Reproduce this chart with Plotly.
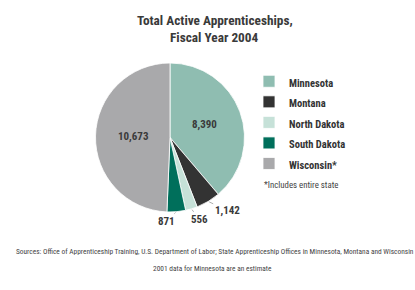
import math
import plotly.graph_objects as go

states = ["Minnesota", "Montana", "North Dakota", "South Dakota", "Wisconsin*"]
values = [8390, 1142, 556, 871, 10673]
colors = ["#8fbdb1", "#333333", "#c6e1d8", "#006f5b", "#a9a9ab"]
text_labels = ["8,390", "1,142", "556", "871", "10,673"]
label_inside = [True, False, False, False, True]
title_lines = ["Total Active Apprenticeships,", "Fiscal Year 2004"]
# pixel offsets for outside labels (style, not data)
outside_offsets = {1: (19, 9), 2: (8, 11), 3: (-10, 10)}

FONT = "Roboto Condensed, Liberation Sans Narrow, Arial Narrow, Roboto, sans-serif"
W, H = 415, 290
# pie domain in pixels
PX0, PX1, PY0, PY1 = 95, 245, 63, 212
cx, cy = (PX0 + PX1) / 2, (PY0 + PY1) / 2
R = min(PX1 - PX0, PY1 - PY0) / 2

legend_labels = ['<span style="font-size:10.5px">%s</span>' % s for s in states]

fig = go.Figure(go.Pie(
    labels=legend_labels,
    values=values,
    textinfo="none",
    sort=False,
    direction="clockwise",
    rotation=0,
    marker=dict(colors=colors, line=dict(color="#ffffff", width=0.8)),
    domain=dict(x=[PX0 / W, PX1 / W], y=[1 - PY1 / H, 1 - PY0 / H]),
    hovertext=states,
    hoverinfo="text+value",
))

annotations = []
total = sum(values)
cum = 0
for i, v in enumerate(values):
    mid = (cum + v / 2) / total * 2 * math.pi
    cum += v
    sx, sy = math.sin(mid), -math.cos(mid)
    if label_inside[i]:
        px, py = cx + 0.49 * R * sx, cy + 0.49 * R * sy
        annotations.append(dict(
            text="<b>%s</b>" % text_labels[i], x=px / W, y=1 - py / H,
            xref="paper", yref="paper", xanchor="center", yanchor="middle",
            showarrow=False,
            font=dict(family=FONT, size=11, color="#3a3a3a")))
    else:
        ex, ey = cx + R * sx, cy + R * sy
        ox, oy = outside_offsets[i]
        annotations.append(dict(
            text="<b>%s</b>" % text_labels[i], x=ex / W, y=1 - ey / H,
            xref="paper", yref="paper", showarrow=True, arrowhead=0,
            arrowwidth=0.8, arrowcolor="#9a9a9a", ax=ox, ay=oy, standoff=1,
            font=dict(family=FONT, size=11, color="#3a3a3a")))

for j, (line, ty) in enumerate(zip(title_lines, [20.5, 37])):
    annotations.append(dict(
        text="<b>%s</b>" % line, x=0.518, y=1 - ty / H, xref="paper", yref="paper",
        xanchor="center", yanchor="middle", showarrow=False,
        font=dict(family=FONT, size=13.3, color="#3a3a3a")))

annotations += [
    dict(text="*Includes entire state",
         x=262 / W, y=1 - 185 / H, xref="paper", yref="paper", xanchor="left", yanchor="middle",
         showarrow=False, font=dict(family=FONT, size=8.8, color="#444444")),
    dict(text="Sources: Office of Apprenticeship Training, U.S. Department of Labor; State Apprenticeship Offices in Minnesota, Montana and Wisconsin",
         x=215 / W, y=1 - 251 / H, xref="paper", yref="paper", xanchor="center", yanchor="middle",
         showarrow=False, font=dict(family=FONT, size=7.4, color="#444444")),
    dict(text="2001 data for Minnesota are an estimate",
         x=212 / W, y=1 - 268 / H, xref="paper", yref="paper", xanchor="center", yanchor="middle",
         showarrow=False, font=dict(family=FONT, size=7.4, color="#444444")),
]

fig.update_layout(
    width=W, height=H,
    margin=dict(l=0, r=0, t=0, b=0),
    paper_bgcolor="white",
    plot_bgcolor="white",
    font=dict(family=FONT, color="#333333"),
    showlegend=True,
    legend=dict(
        x=249 / W, y=1 - 66 / H, xanchor="left", yanchor="top",
        font=dict(family=FONT, size=13.5, color="#333333", weight="bold"),
        itemwidth=30, tracegroupgap=0,
        bgcolor="rgba(0,0,0,0)",
    ),
    annotations=annotations,
)

fig.write_html("out.html")
